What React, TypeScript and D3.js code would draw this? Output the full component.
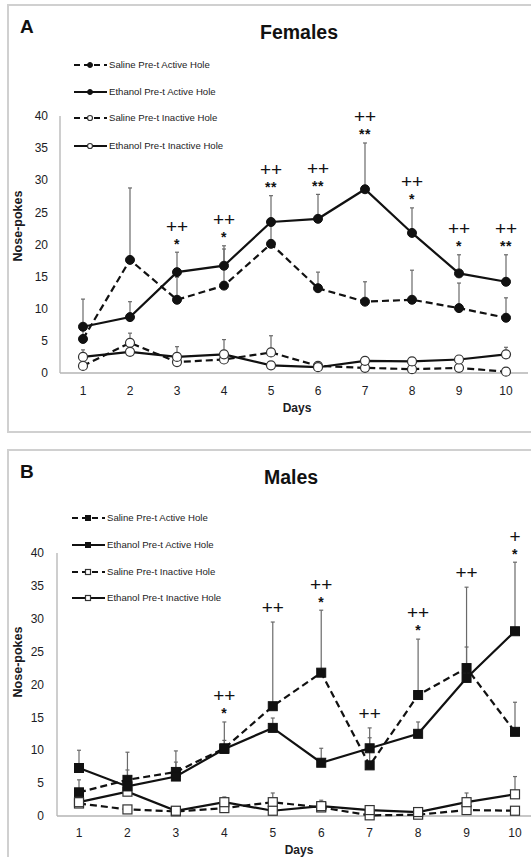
import React from 'react';
import * as d3 from 'd3';

// ---- data ----
const days = [1, 2, 3, 4, 5, 6, 7, 8, 9, 10];
const yTicks = [0, 5, 10, 15, 20, 25, 30, 35, 40];

const legendNames = [
  'Saline Pre-t Active Hole',
  'Ethanol Pre-t Active Hole',
  'Saline Pre-t Inactive Hole',
  'Ethanol Pre-t Inactive Hole',
];

// Females (mean nose-pokes and upper SEM)
const fSalineActive = [5.3, 17.6, 11.4, 13.6, 20.1, 13.2, 11.1, 11.4, 10.1, 8.6];
const fSalineActiveErr = [2.0, 11.2, 3.5, 5.7, 3.0, 2.5, 3.1, 4.6, 3.9, 3.1];
const fEthanolActive = [7.2, 8.7, 15.7, 16.7, 23.5, 24.0, 28.6, 21.8, 15.5, 14.2];
const fEthanolActiveErr = [4.3, 2.4, 3.1, 3.1, 4.1, 3.8, 7.2, 3.9, 2.9, 4.2];
const fSalineInactive = [1.1, 4.7, 1.7, 2.1, 3.2, 1.1, 0.8, 0.6, 0.8, 0.2];
const fSalineInactiveErr = [0.5, 1.5, 0.6, 0.8, 2.6, 0.4, 0.4, 0.3, 0.4, 0.2];
const fEthanolInactive = [2.5, 3.3, 2.5, 2.9, 1.2, 0.9, 1.9, 1.8, 2.1, 2.9];
const fEthanolInactiveErr = [1.1, 0.6, 1.6, 2.3, 0.5, 0.4, 0.5, 0.4, 0.5, 1.1];
const fSig = [
  { day: 3, plus: '++', star: '*' },
  { day: 4, plus: '++', star: '*' },
  { day: 5, plus: '++', star: '**' },
  { day: 6, plus: '++', star: '**' },
  { day: 7, plus: '++', star: '**' },
  { day: 8, plus: '++', star: '*' },
  { day: 9, plus: '++', star: '*' },
  { day: 10, plus: '++', star: '**' },
];

// Males (mean nose-pokes and upper SEM)
const mSalineActive = [3.6, 5.5, 6.7, 10.3, 16.7, 21.8, 7.7, 18.4, 22.5, 12.8];
const mSalineActiveErr = [1.9, 1.5, 1.5, 4.0, 12.8, 9.5, 4.2, 8.5, 12.3, 4.5];
const mEthanolActive = [7.3, 4.5, 6.0, 10.2, 13.4, 8.1, 10.3, 12.5, 21.0, 28.1];
const mEthanolActiveErr = [2.7, 5.2, 3.9, 1.3, 1.5, 2.2, 3.1, 1.8, 4.7, 10.5];
const mSalineInactive = [1.9, 1.0, 0.7, 1.2, 2.1, 1.3, 0.1, 0.2, 0.9, 0.8];
const mSalineInactiveErr = [0.3, 0.3, 0.2, 0.4, 1.4, 0.4, 0.2, 0.2, 0.4, 0.3];
const mEthanolInactive = [2.1, 3.7, 0.8, 2.1, 0.8, 1.5, 0.9, 0.6, 2.1, 3.3];
const mEthanolInactiveErr = [0.5, 0.5, 0.3, 0.8, 0.3, 0.9, 0.4, 0.3, 1.4, 2.7];
const mSig = [
  { day: 4, plus: '++', star: '*' },
  { day: 5, plus: '++', star: '' },
  { day: 6, plus: '++', star: '*' },
  { day: 7, plus: '++', star: '' },
  { day: 8, plus: '++', star: '*' },
  { day: 9, plus: '++', star: '' },
  { day: 10, plus: '+', star: '*' },
];

// ---- drawing ----
const FONT = "'Liberation Sans', Arial, Helvetica, sans-serif";
const TEXT = '#1c1c24';
const DASH = '7,4';

type Series = { values: number[]; errs: number[]; dashed: boolean; filled: boolean };
type Sig = { day: number; plus: string; star: string };
type Shape = 'circle' | 'square';

function Marker({ shape, x, y, filled, size }: { shape: Shape; x: number; y: number; filled: boolean; size: number }) {
  const fill = filled ? '#111' : '#fff';
  const stroke = filled ? '#111' : '#333';
  if (shape === 'circle') {
    return <circle cx={x} cy={y} r={size / 2} fill={fill} stroke={stroke} strokeWidth={filled ? 1 : 1.2} />;
  }
  return <rect x={x - size / 2} y={y - size / 2} width={size} height={size} fill={fill} stroke={stroke} strokeWidth={filled ? 1 : 1.2} />;
}

type Geo = {
  box: [number, number, number, number];
  letter: [number, number];
  title: [number, number];
  legendX: [number, number, number, number]; // line start, line end, marker x, text x
  legendY: number[];
  xRange: [number, number];
  yRange: [number, number];
  axisX: number;
  axisRight: number;
  yTickRight: number;
  xTickBaseline: number;
  yLabel: [number, number];
  daysLabel: [number, number];
};

function Panel({ geo, letter, title, shape, series, sig }: { geo: Geo; letter: string; title: string; shape: Shape; series: Series[]; sig: Sig[] }) {
  const x = d3.scaleLinear().domain([1, 10]).range(geo.xRange);
  const y = d3.scaleLinear().domain([0, 40]).range(geo.yRange);
  const line = d3.line<number>().x((_, i) => x(days[i])).y((v) => y(v));
  const mSize = 9;
  const capW = 4;

  // draw order: inactive first, active on top
  const order = [2, 3, 0, 1];

  const sigMarks = sig.map((s) => {
    const i = days.indexOf(s.day);
    const top = d3.max(series, (se) => se.values[i] + se.errs[i]) as number;
    const capY = y(top);
    const starC = capY - 12;
    const plusC = s.star ? starC - 14 : capY - 14;
    return { ...s, cx: x(s.day), starC, plusC };
  });

  return (
    <g>
      <rect x={geo.box[0]} y={geo.box[1]} width={geo.box[2]} height={geo.box[3]} fill="#fff" stroke="#d0d0d0" strokeWidth={2} />
      <text x={geo.letter[0]} y={geo.letter[1]} fontFamily={FONT} fontWeight="bold" fontSize={19} fill="#111">{letter}</text>
      <text x={geo.title[0]} y={geo.title[1]} textAnchor="middle" fontFamily={FONT} fontWeight="bold" fontSize={19.5} fill="#111">{title}</text>

      {/* axes */}
      <line x1={geo.axisX} x2={geo.axisX} y1={y(40)} y2={y(0)} stroke="#b4b4b4" strokeWidth={1.3} />
      <line x1={geo.axisX} x2={geo.axisRight} y1={y(0)} y2={y(0)} stroke="#b4b4b4" strokeWidth={1.3} />
      {yTicks.map((t) => (
        <text key={'y' + t} x={geo.yTickRight} y={y(t) + 4.2} textAnchor="end" fontFamily={FONT} fontSize={12} fill={TEXT}>{t}</text>
      ))}
      {days.map((d) => (
        <text key={'x' + d} x={x(d)} y={geo.xTickBaseline} textAnchor="middle" fontFamily={FONT} fontSize={12} fill={TEXT}>{d}</text>
      ))}
      <text x={geo.daysLabel[0]} y={geo.daysLabel[1]} textAnchor="middle" fontFamily={FONT} fontWeight="bold" fontSize={12} fill={TEXT}>Days</text>
      <text transform={`translate(${geo.yLabel[0]},${geo.yLabel[1]}) rotate(-90)`} textAnchor="middle" fontFamily={FONT} fontWeight="bold" fontSize={12.5} fill={TEXT} dy="0.35em">Nose-pokes</text>

      {/* error bars (upper SEM) */}
      {order.map((k) => {
        const se = series[k];
        return (
          <g key={'e' + k} stroke="#6a6a6a" strokeWidth={1.2}>
            {days.map((d, i) => {
              const cx = x(d);
              const y0 = y(se.values[i]);
              const y1 = y(se.values[i] + se.errs[i]);
              return (
                <g key={i}>
                  <line x1={cx} x2={cx} y1={y0} y2={y1} />
                  <line x1={cx - capW / 2} x2={cx + capW / 2} y1={y1} y2={y1} />
                </g>
              );
            })}
          </g>
        );
      })}

      {/* lines and markers */}
      {order.map((k) => {
        const se = series[k];
        return (
          <g key={'s' + k}>
            <path d={line(se.values) || ''} fill="none" stroke="#111" strokeWidth={2.2} strokeDasharray={se.dashed ? DASH : undefined} />
            {se.values.map((v, i) => (
              <Marker key={i} shape={shape} x={x(days[i])} y={y(v)} filled={se.filled} size={mSize} />
            ))}
          </g>
        );
      })}

      {/* significance marks */}
      {sigMarks.map((s) => (
        <g key={'sig' + s.day}>
          <text x={s.cx} y={s.plusC + 6.3} textAnchor="middle" fontFamily={FONT} fontSize={19} fill="#111">{s.plus}</text>
          {s.star && (
            <text x={s.cx} y={s.starC + 8.3} textAnchor="middle" fontFamily={FONT} fontWeight="bold" fontSize={14} letterSpacing={0.5} fill="#111">{s.star}</text>
          )}
        </g>
      ))}

      {/* legend */}
      {series.map((se, k) => {
        const ly = geo.legendY[k];
        const [lx0, lx1, mx, tx] = geo.legendX;
        return (
          <g key={'l' + k}>
            <line x1={lx0} x2={lx1} y1={ly} y2={ly} stroke="#111" strokeWidth={2.2} strokeDasharray={se.dashed ? '6,4' : undefined} />
            <Marker shape={shape} x={mx} y={ly} filled={se.filled} size={5} />
            <text x={tx} y={ly + 3.4} fontFamily={FONT} fontSize={9.6} fill={TEXT}>{legendNames[k]}</text>
          </g>
        );
      })}
    </g>
  );
}

const geoA: Geo = {
  box: [8, 5, 540, 427],
  letter: [20, 33],
  title: [299, 39],
  legendX: [74, 107, 90, 109],
  legendY: [65, 92, 118, 146],
  xRange: [83, 506],
  yRange: [373, 116],
  axisX: 60,
  axisRight: 528,
  yTickRight: 48,
  xTickBaseline: 395,
  yLabel: [18, 226],
  daysLabel: [297, 412],
};

const geoB: Geo = {
  box: [8, 450, 540, 450],
  letter: [20, 478],
  title: [291, 484],
  legendX: [72, 105, 88, 107],
  legendY: [518, 545, 572, 598],
  xRange: [79, 515],
  yRange: [816, 553],
  axisX: 57,
  axisRight: 531,
  yTickRight: 44,
  xTickBaseline: 837,
  yLabel: [18, 662],
  daysLabel: [299, 853.5],
};

export default function App() {
  const females: Series[] = [
    { values: fSalineActive, errs: fSalineActiveErr, dashed: true, filled: true },
    { values: fEthanolActive, errs: fEthanolActiveErr, dashed: false, filled: true },
    { values: fSalineInactive, errs: fSalineInactiveErr, dashed: true, filled: false },
    { values: fEthanolInactive, errs: fEthanolInactiveErr, dashed: false, filled: false },
  ];
  const males: Series[] = [
    { values: mSalineActive, errs: mSalineActiveErr, dashed: true, filled: true },
    { values: mEthanolActive, errs: mEthanolActiveErr, dashed: false, filled: true },
    { values: mSalineInactive, errs: mSalineInactiveErr, dashed: true, filled: false },
    { values: mEthanolInactive, errs: mEthanolInactiveErr, dashed: false, filled: false },
  ];
  return (
    <svg width={531} height={857} style={{ position: 'absolute', left: 0, top: 0, background: '#fff' }}>
      <rect x={0} y={0} width={531} height={857} fill="#fff" />
      <Panel geo={geoA} letter="A" title="Females" shape="circle" series={females} sig={fSig} />
      <Panel geo={geoB} letter="B" title="Males" shape="square" series={males} sig={mSig} />
    </svg>
  );
}
